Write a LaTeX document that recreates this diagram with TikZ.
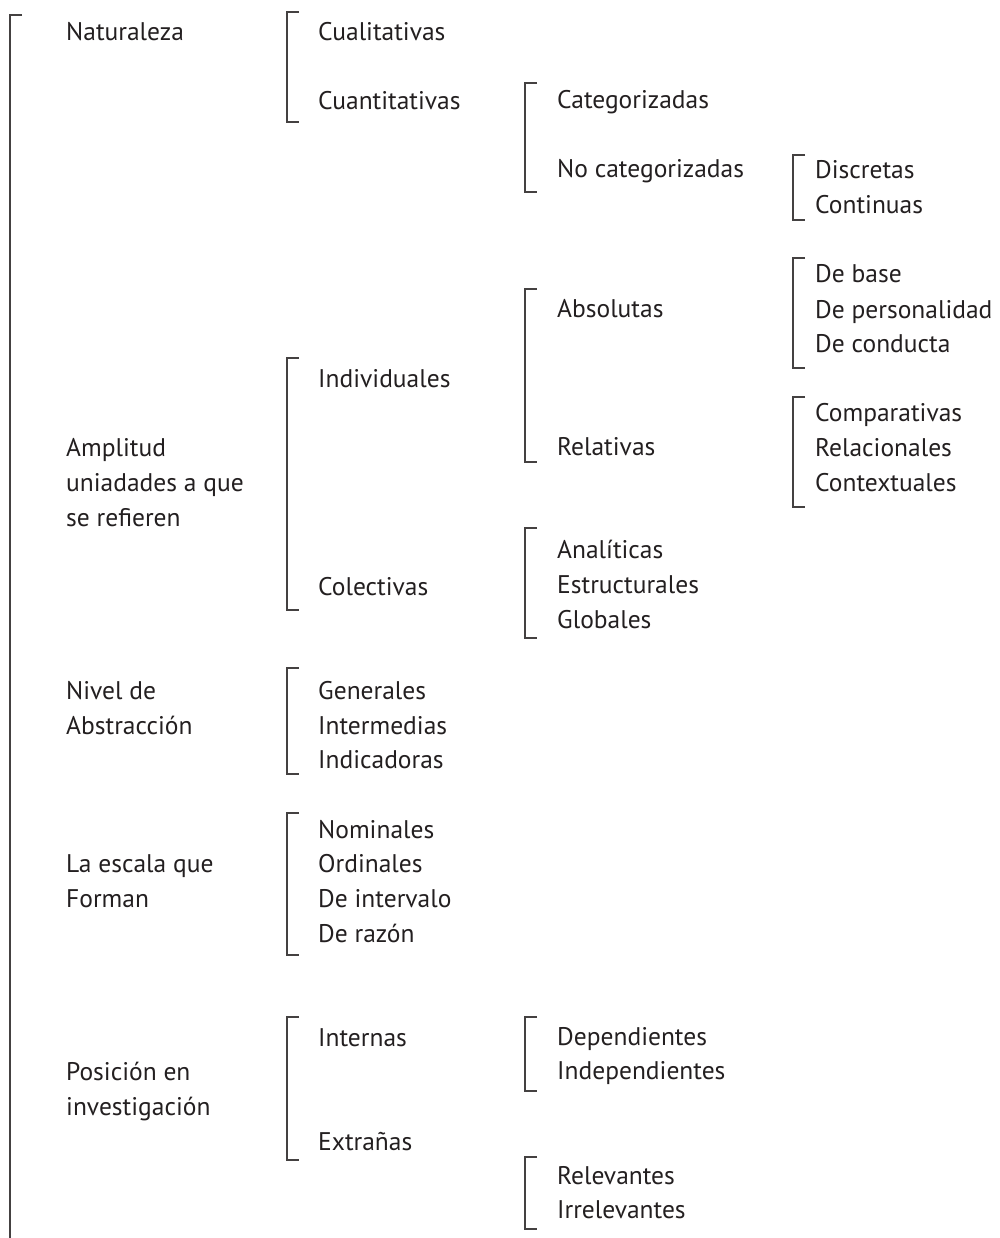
\documentclass[tikz,border=0pt]{standalone}
\usepackage{fontspec}
\setmainfont{PT Sans}
\definecolor{ink}{HTML}{231F20}
\begin{document}
\begin{tikzpicture}[x=1pt,y=-1pt,
  lbl/.style={anchor=base west,inner sep=0pt,text=ink,font=\fontsize{25.5}{35}\selectfont},
  brk/.style={draw=ink!85,line width=1.1pt}]
\useasboundingbox (0,0) rectangle (1000,1238);
\newcommand{\brk}[3]{\draw[brk] (#1+12,#2) -- (#1,#2) -- (#1,#3) -- (#1+12,#3);}
% main bracket
\draw[brk] (22,15) -- (10,15) -- (10,1238);
% column 1
\node[lbl] (nat) at (66,41) {Naturaleza};
\node[lbl] (amp1) at (66,456) {Amplitud};
\node[lbl] (amp2) at (66,491) {uniadades a que};
\node[lbl] (amp3) at (66,526) {se refieren};
\node[lbl] (niv1) at (66,699) {Nivel de};
\node[lbl] (niv2) at (66,734) {Abstracción};
\node[lbl] (esc1) at (66,872) {La escala que};
\node[lbl] (esc2) at (66,907) {Forman};
\node[lbl] (pos1) at (66,1080) {Posición en};
\node[lbl] (pos2) at (66,1115) {investigación};
% column 2
\brk{287}{12}{122}
\node[lbl] (cual) at (318,41) {Cualitativas};
\node[lbl] (cuan) at (318,110) {Cuantitativas};
\brk{287}{358}{610}
\node[lbl] (ind) at (318,387) {Individuales};
\node[lbl] (col) at (318,595) {Colectivas};
\brk{287}{668}{774}
\node[lbl] (gen) at (318,699) {Generales};
\node[lbl] (int) at (318,734) {Intermedias};
\node[lbl] (indc) at (318,768) {Indicadoras};
\brk{287}{813}{955}
\node[lbl] (nom) at (318,838) {Nominales};
\node[lbl] (ord) at (318,872) {Ordinales};
\node[lbl] (inv) at (318,907) {De intervalo};
\node[lbl] (raz) at (318,942) {De razón};
\brk{287}{1017}{1160}
\node[lbl] (inte) at (318,1046) {Internas};
\node[lbl] (ext) at (318,1150) {Extrañas};
% column 3
\brk{525}{83}{192}
\node[lbl] (cat) at (557,109) {Categorizadas};
\node[lbl] (ncat) at (557,178) {No categorizadas};
\brk{525}{289}{462}
\node[lbl] (abs) at (557,317) {Absolutas};
\node[lbl] (rel) at (557,455) {Relativas};
\brk{525}{528}{638}
\node[lbl] (ana) at (557,558) {Analíticas};
\node[lbl] (est) at (557,593) {Estructurales};
\node[lbl] (glo) at (557,628) {Globales};
\brk{525}{1017}{1091}
\node[lbl] (dep) at (557,1045) {Dependientes};
\node[lbl] (indp) at (557,1079) {Independientes};
\brk{525}{1157}{1229}
\node[lbl] (relv) at (557,1184) {Relevantes};
\node[lbl] (irr) at (557,1218) {Irrelevantes};
% column 4
\brk{793}{155}{220}
\node[lbl] (dis) at (815,179) {Discretas};
\node[lbl] (con) at (815,214) {Continuas};
\brk{793}{258}{368}
\node[lbl] (bas) at (815,283) {De base};
\node[lbl] (per) at (815,318) {De personalidad};
\node[lbl] (cond) at (815,352) {De conducta};
\brk{793}{397}{507}
\node[lbl] (comp) at (815,421) {Comparativas};
\node[lbl] (rela) at (815,456) {Relacionales};
\node[lbl] (cont) at (815,491) {Contextuales};
\end{tikzpicture}
\end{document}
